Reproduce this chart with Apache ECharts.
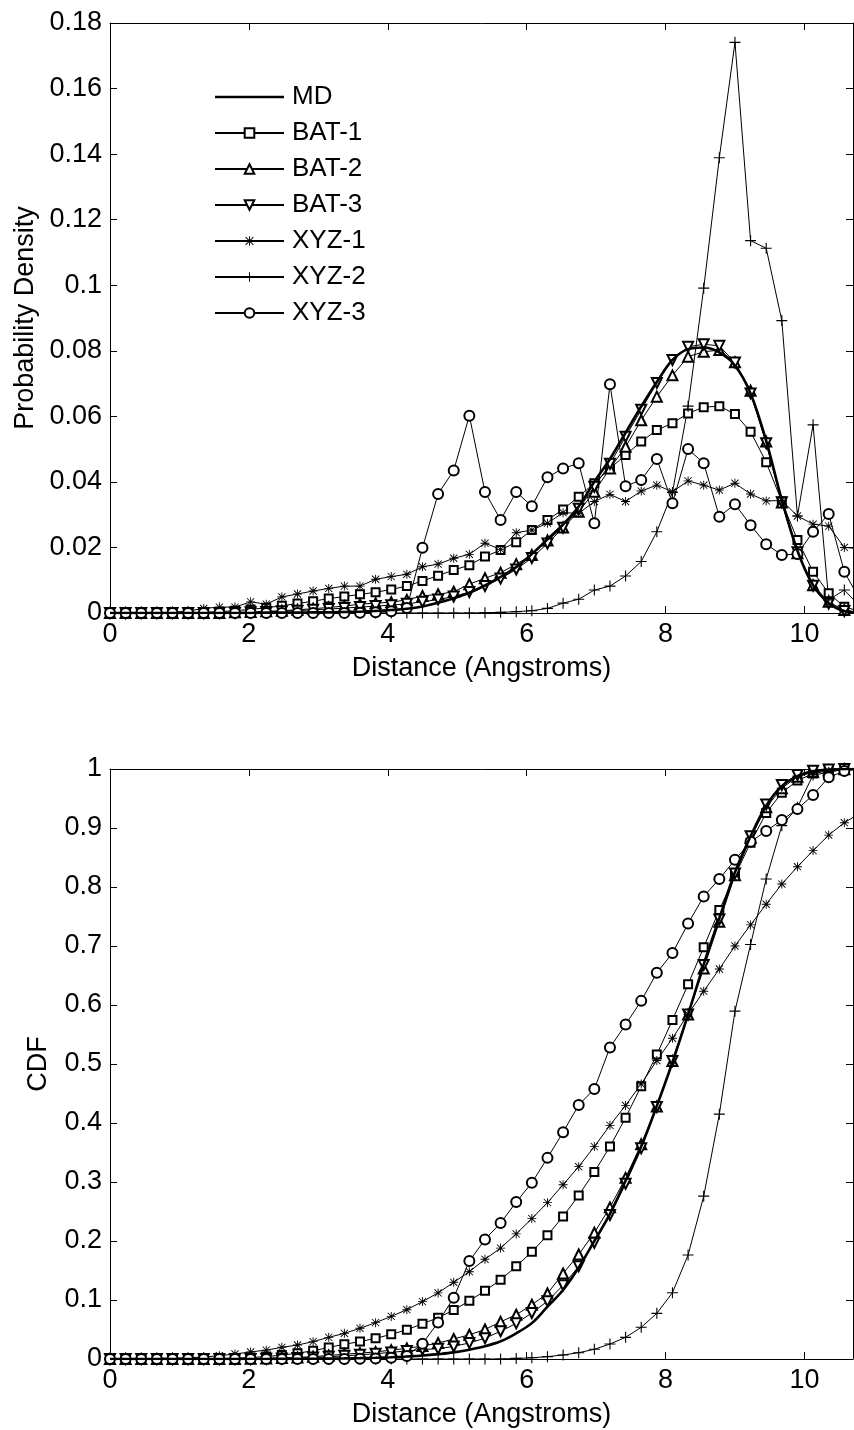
<!DOCTYPE html>
<html>
<head>
<meta charset="utf-8">
<script src="https://cdn.jsdelivr.net/npm/echarts/dist/echarts.min.js"></script>
<style>
html, body { margin: 0; padding: 0; background: #fff; }
#main { width: 854px; height: 1430px; }
</style>
</head>
<body>
<div id="main"></div>
<script>
// bin centres (Angstroms)
var dist = [0, 0.225, 0.45, 0.675, 0.9, 1.125, 1.35, 1.575, 1.8, 2.025, 2.25, 2.475, 2.7, 2.925, 3.15, 3.375, 3.6, 3.825, 4.05, 4.275,
  4.5, 4.725, 4.95, 5.175, 5.4, 5.625, 5.85, 6.075, 6.3, 6.525, 6.75, 6.975, 7.2, 7.425, 7.65, 7.875, 8.1, 8.325, 8.55, 8.775,
  9.0, 9.225, 9.45, 9.675, 9.9, 10.125, 10.35, 10.575, 10.8];

var names = ['MD', 'BAT-1', 'BAT-2', 'BAT-3', 'XYZ-1', 'XYZ-2', 'XYZ-3'];

// probability density
var pdMD = [0, 0, 0, 0, 0, 0, 0, 0, 0, 0, 0.0001, 0.0001, 0.0001, 0.0002, 0.0002, 0.0003, 0.0004, 0.0006, 0.0009, 0.0013,
  0.002, 0.0031, 0.0045, 0.0062, 0.0084, 0.011, 0.014, 0.018, 0.0225, 0.027, 0.0325, 0.04, 0.047, 0.055, 0.063, 0.0705, 0.0772, 0.0805, 0.081, 0.0795,
  0.0755, 0.067, 0.0525, 0.0345, 0.019, 0.0085, 0.003, 0.0006, 0.0001];
var pdBAT1 = [0, 0, 0, 0, 0, 0.0001, 0.0002, 0.0004, 0.0007, 0.0011, 0.0016, 0.0022, 0.0029, 0.0036, 0.0044, 0.005, 0.0057, 0.0063, 0.0072, 0.0082,
  0.0098, 0.0114, 0.0131, 0.0146, 0.0172, 0.0192, 0.0216, 0.0253, 0.0284, 0.0316, 0.0355, 0.0396, 0.0441, 0.0482, 0.0523, 0.0558, 0.0579, 0.0609, 0.0628, 0.0631,
  0.0607, 0.0553, 0.046, 0.034, 0.0223, 0.0126, 0.006, 0.0019, 0.0005];
var pdBAT2 = [0, 0, 0, 0, 0, 0, 0, 0, 0.0002, 0.0003, 0.0005, 0.0007, 0.001, 0.0013, 0.0017, 0.0021, 0.0027, 0.003, 0.0033, 0.004,
  0.0052, 0.0057, 0.0065, 0.0088, 0.0106, 0.0123, 0.0149, 0.0177, 0.0221, 0.0261, 0.0309, 0.037, 0.0441, 0.0507, 0.0588, 0.066, 0.0725, 0.0782, 0.0797, 0.0802,
  0.0765, 0.0678, 0.0523, 0.0337, 0.0182, 0.0085, 0.0034, 0.0009, 0.0002];
var pdBAT3 = [0, 0, 0, 0, 0, 0, 0, 0, 0.0001, 0.0002, 0.0003, 0.0005, 0.0007, 0.001, 0.0012, 0.0015, 0.0018, 0.0021, 0.0024, 0.0028,
  0.0034, 0.0041, 0.005, 0.0064, 0.0082, 0.0105, 0.0133, 0.0168, 0.0212, 0.026, 0.0318, 0.0385, 0.0455, 0.0538, 0.062, 0.0702, 0.0772, 0.0812, 0.082, 0.0815,
  0.0764, 0.067, 0.0518, 0.0338, 0.0185, 0.0083, 0.0029, 0.0006, 0.0001];
var pdXYZ1 = [0, 0, 0, 0, 0.0002, 0.0006, 0.0014, 0.0018, 0.0018, 0.0034, 0.0027, 0.0049, 0.0058, 0.0067, 0.0075, 0.0082, 0.0082, 0.0103, 0.0111, 0.0118,
  0.0141, 0.0149, 0.0167, 0.0179, 0.0213, 0.0194, 0.0245, 0.0253, 0.0274, 0.0306, 0.0304, 0.034, 0.0362, 0.034, 0.0372, 0.039, 0.037, 0.0403, 0.039, 0.0375,
  0.0396, 0.0363, 0.0342, 0.0343, 0.0296, 0.0271, 0.0265, 0.02, 0.0196];
var pdXYZ2 = [0, 0, 0, 0, 0, 0, 0, 0, 0, 0, 0, 0, 0, 0, 0, 0, 0, 0, 0, 0,
  0, 0, 0, 0, 0.0001, 0.0002, 0.0004, 0.0007, 0.0014, 0.003, 0.0042, 0.007, 0.0082, 0.0113, 0.0157, 0.0248, 0.0368, 0.0631, 0.0991, 0.1389,
  0.1741, 0.1136, 0.1113, 0.0892, 0.0296, 0.0574, 0.004, 0.007, 0.002];
var pdXYZ3 = [0, 0, 0, 0, 0, 0, 0, 0, 0, 0, 0, 0, 0, 0, 0, 0, 0.0001, 0.0002, 0.0005, 0.0015,
  0.0199, 0.0363, 0.0435, 0.0602, 0.0369, 0.0284, 0.0369, 0.0326, 0.0414, 0.0441, 0.0457, 0.0274, 0.0698, 0.0387, 0.0406, 0.047, 0.0335, 0.05, 0.0457, 0.0294,
  0.0332, 0.0268, 0.021, 0.0177, 0.018, 0.0248, 0.0302, 0.0126, 0.004];

// cumulative distribution
var cdfMD = [0, 0, 0, 0, 0, 0, 0, 0, 0, 0, 0.0001, 0.0002, 0.0003, 0.0005, 0.0007, 0.001, 0.0014, 0.002, 0.0029, 0.0042,
  0.0058, 0.0082, 0.0112, 0.0157, 0.0215, 0.03, 0.0436, 0.0608, 0.0887, 0.117, 0.155, 0.2, 0.246, 0.302, 0.36, 0.429, 0.503, 0.584, 0.669, 0.747,
  0.825, 0.886, 0.938, 0.971, 0.988, 0.996, 0.999, 1, 1];
var cdfBAT1 = [0, 0, 0, 0, 0, 0.0001, 0.0003, 0.0007, 0.0014, 0.0025, 0.0041, 0.0066, 0.0098, 0.014, 0.0195, 0.025, 0.0295, 0.035, 0.0418, 0.0495,
  0.0597, 0.07, 0.083, 0.0986, 0.1155, 0.1344, 0.157, 0.1817, 0.2097, 0.2415, 0.2773, 0.317, 0.36, 0.409, 0.4624, 0.516, 0.5746, 0.635, 0.698, 0.761,
  0.8195, 0.875, 0.9254, 0.9597, 0.9805, 0.9922, 0.997, 0.999, 1];
var cdfBAT2 = [0, 0, 0, 0, 0, 0, 0, 0, 0.0002, 0.0005, 0.001, 0.0017, 0.0027, 0.004, 0.006, 0.008, 0.01, 0.012, 0.015, 0.018,
  0.022, 0.027, 0.034, 0.041, 0.05, 0.063, 0.075, 0.092, 0.111, 0.145, 0.177, 0.214, 0.257, 0.307, 0.364, 0.428, 0.505, 0.584, 0.662, 0.741,
  0.82, 0.883, 0.935, 0.9675, 0.987, 0.995, 0.998, 0.9995, 1];
var cdfBAT3 = [0, 0, 0, 0, 0, 0, 0, 0, 0, 0, 0.0003, 0.0008, 0.0015, 0.0025, 0.0038, 0.0053, 0.007, 0.009, 0.0112, 0.0137,
  0.016, 0.0175, 0.0213, 0.0272, 0.0353, 0.047, 0.0604, 0.078, 0.098, 0.125, 0.157, 0.197, 0.244, 0.297, 0.357, 0.427, 0.505, 0.584, 0.668, 0.745,
  0.823, 0.886, 0.94, 0.973, 0.99, 0.997, 0.999, 1, 1];
var cdfXYZ1 = [0, 0, 0.0005, 0.001, 0.0015, 0.002, 0.0035, 0.0055, 0.0085, 0.012, 0.015, 0.0198, 0.0237, 0.0294, 0.0367, 0.0435, 0.052, 0.0616, 0.0722, 0.0836,
  0.0973, 0.112, 0.13, 0.148, 0.169, 0.188, 0.212, 0.238, 0.265, 0.2954, 0.326, 0.36, 0.396, 0.4298, 0.466, 0.506, 0.5436, 0.5844, 0.6234, 0.661,
  0.7, 0.7358, 0.7708, 0.805, 0.8344, 0.8617, 0.888, 0.909, 0.925];
var cdfXYZ2 = [0, 0, 0, 0, 0, 0, 0, 0, 0, 0, 0, 0, 0, 0, 0, 0, 0, 0, 0, 0,
  0, 0, 0, 0, 0, 0, 0.001, 0.002, 0.004, 0.0068, 0.0107, 0.0164, 0.0254, 0.0367, 0.0537, 0.0774, 0.1124, 0.1763, 0.276, 0.415,
  0.5896, 0.7026, 0.8136, 0.904, 0.935, 0.99, 0.994, 1, 1];
var cdfXYZ3 = [0, 0, 0, 0, 0, 0, 0, 0, 0, 0, 0, 0, 0, 0, 0, 0, 0.0005, 0.001, 0.002, 0.005,
  0.026, 0.062, 0.104, 0.166, 0.2025, 0.2305, 0.266, 0.2986, 0.3409, 0.3844, 0.4305, 0.4576, 0.528, 0.5668, 0.607, 0.6546, 0.688, 0.738, 0.784, 0.8136,
  0.846, 0.8766, 0.895, 0.9136, 0.932, 0.956, 0.986, 0.9966, 1];

var xTicks = [0, 2, 4, 6, 8, 10];

var FONT = 'Liberation Sans, Arial, Helvetica, sans-serif';
var plusPath = 'path://M4.5,0L5.5,0L5.5,4.5L10,4.5L10,5.5L5.5,5.5L5.5,10L4.5,10L4.5,5.5L0,5.5L0,4.5L4.5,4.5Z';
var starPath = 'path://M4.5,0L5.5,0L5.5,10L4.5,10Z M0,4.5L10,4.5L10,5.5L0,5.5Z M1.35,0.65L9.35,8.65L8.65,9.35L0.65,1.35Z M8.65,0.65L9.35,1.35L1.35,9.35L0.65,8.65Z';
// plain thick bar for the MD legend entry (zero-area points keep the 69x12 box)
var mdIcon = 'path://M0,0L0.01,0Z M0,4.7L69,4.7L69,7.3L0,7.3Z M0,12L0.01,12Z';

// marker per series (MD has none)
var marks = [
  { symbol: 'none', size: 0, rot: 0 },
  { symbol: 'emptyRect', size: 8, rot: 0 },
  { symbol: 'emptyTriangle', size: 10, rot: 0 },
  { symbol: 'emptyTriangle', size: 10, rot: 180 },
  { symbol: starPath, size: 9, rot: 0 },
  { symbol: plusPath, size: 11, rot: 0 },
  { symbol: 'emptyCircle', size: 10, rot: 0 }
];

function pairs(ys) {
  return dist.map(function (x, i) { return [x, ys[i]]; });
}

function makeSeries(k, ys, axisIdx) {
  var m = marks[k];
  return {
    name: names[k],
    type: 'line',
    xAxisIndex: axisIdx,
    yAxisIndex: axisIdx,
    data: pairs(ys),
    symbol: m.symbol,
    symbolSize: m.size,
    symbolRotate: m.rot,
    showSymbol: k > 0,
    smooth: k === 0 ? 0.35 : false,
    clip: true,
    color: '#000',
    itemStyle: { color: '#000', borderWidth: 1 },
    lineStyle: { color: '#000', width: k === 0 ? 2.6 : 1 },
    emphasis: { disabled: true },
    z: k === 0 ? 3 : 2
  };
}

function xAx(grid, pos, title) {
  return {
    type: 'value', gridIndex: grid, position: pos, min: 0, max: 10.7, interval: 2,
    name: title, nameLocation: 'middle', nameGap: 42,
    nameTextStyle: { fontSize: 27, color: '#000', fontFamily: FONT },
    axisLine: { show: true, onZero: false, lineStyle: { color: '#000', width: 1 } },
    axisTick: { show: true, inside: true, length: 7, lineStyle: { color: '#000' } },
    axisLabel: { show: pos === 'bottom', fontSize: 27, color: '#000', fontFamily: FONT, margin: 8, showMaxLabel: false,
      formatter: function (v) { return xTicks.indexOf(v) >= 0 ? String(v) : ''; } },
    splitLine: { show: false }
  };
}

function yAx(grid, pos, max, step, title, gap) {
  return {
    type: 'value', gridIndex: grid, position: pos, min: 0, max: max, interval: step,
    name: title, nameLocation: 'middle', nameGap: gap,
    nameTextStyle: { fontSize: 27, color: '#000', fontFamily: FONT },
    axisLine: { show: true, onZero: false, lineStyle: { color: '#000', width: 1 } },
    axisTick: { show: true, inside: true, length: 7, lineStyle: { color: '#000' } },
    axisLabel: { show: pos === 'left', fontSize: 27, color: '#000', fontFamily: FONT, margin: 8,
      formatter: function (v) {
        var r = Math.round(v * 100) / 100;
        return String(r);
      } },
    splitLine: { show: false }
  };
}

var pdSets = [pdMD, pdBAT1, pdBAT2, pdBAT3, pdXYZ1, pdXYZ2, pdXYZ3];
var cdfSets = [cdfMD, cdfBAT1, cdfBAT2, cdfBAT3, cdfXYZ1, cdfXYZ2, cdfXYZ3];

var series = [];
pdSets.forEach(function (ys, k) { series.push(makeSeries(k, ys, 0)); });
cdfSets.forEach(function (ys, k) { series.push(makeSeries(k, ys, 2)); });

var legendData = names.map(function (n, k) {
  return k === 0 ? { name: n, icon: mdIcon } : { name: n };
});

var chart = echarts.init(document.getElementById('main'));
chart.setOption({
  backgroundColor: '#fff',
  animation: false,
  textStyle: { fontFamily: FONT },
  grid: [
    { left: 110, top: 23, width: 743, height: 590 },
    { left: 110, top: 769, width: 743, height: 590 }
  ],
  legend: {
    data: legendData,
    orient: 'vertical',
    left: 209,
    top: 79,
    itemWidth: 69,
    itemHeight: 12,
    itemGap: 10,
    selectedMode: false,
    textStyle: { fontSize: 26, color: '#000', fontFamily: FONT, padding: [0, 0, 0, 3] }
  },
  xAxis: [
    xAx(0, 'bottom', 'Distance (Angstroms)'),
    xAx(0, 'top', ''),
    xAx(1, 'bottom', 'Distance (Angstroms)'),
    xAx(1, 'top', '')
  ],
  yAxis: [
    yAx(0, 'left', 0.18, 0.02, 'Probability Density', 69),
    yAx(0, 'right', 0.18, 0.02, '', 0),
    yAx(1, 'left', 1, 0.1, 'CDF', 58),
    yAx(1, 'right', 1, 0.1, '', 0)
  ],
  series: series
});
</script>
</body>
</html>
